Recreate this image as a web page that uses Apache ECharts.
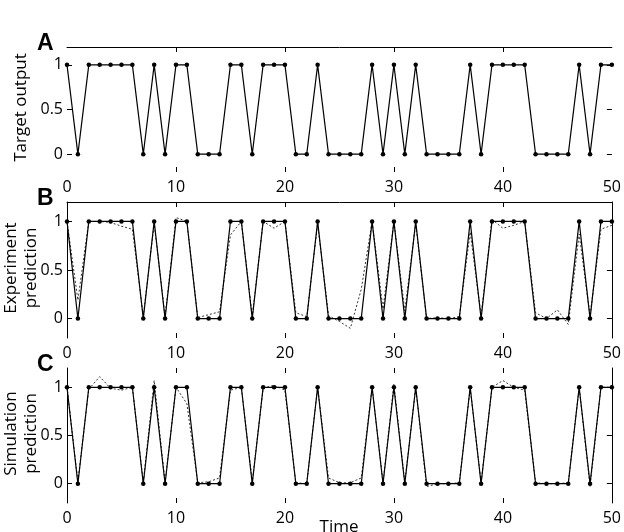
<!DOCTYPE html>
<html>
<head>
<meta charset="utf-8">
<script src="https://cdn.jsdelivr.net/npm/echarts@6/dist/echarts.min.js"></script>
<style>
  html, body { margin: 0; padding: 0; background: #fff; }
  #chart { width: 624px; height: 532px; }
</style>
</head>
<body>
<div id="chart"></div>
<script>
// time steps 0..50
const timeSteps = [];
for (let i = 0; i <= 50; i++) timeSteps.push(i);

const targetOutput = [1, 0, 1, 1, 1, 1, 1, 0, 1, 0,
  1, 1, 0, 0, 0, 1, 1, 0, 1, 1,
  1, 0, 0, 1, 0, 0, 0, 0, 1, 0,
  1, 0, 1, 0, 0, 0, 0, 1, 0, 1,
  1, 1, 1, 0, 0, 0, 0, 1, 0, 1,
  1];

const experimentPrediction = [1, 0.19, 1, 1, 0.99, 0.95, 0.92, 0.02, 0.98, 0.02,
  1.04, 1, 0.01, 0.04, 0.07, 0.86, 1, 0.02, 1, 0.93,
  1, 0.06, 0.02, 0.98, 0.03, -0.03, -0.1, 0.3, 1, 0.1,
  1, 0.08, 0.98, 0, 0.01, 0, 0.02, 0.89, 0.03, 1.02,
  0.93, 0.96, 1, 0.06, 0, 0.09, -0.06, 0.87, 0.03, 0.92,
  0.96];

const simulationPrediction = [1, 0.02, 0.98, 1.11, 0.99, 0.97, 1, 0.01, 1.07, 0.01,
  1, 0.83, 0.01, 0.02, 0.06, 0.97, 1, 0.02, 0.99, 1.02,
  0.97, 0.01, 0, 1, 0.06, 0.01, 0.01, 0.06, 1, 0.01,
  1.03, 0.01, 1, -0.03, 0, 0, 0.01, 0.99, 0.01, 1,
  1.07, 1, 0.97, 0.01, 0, 0, 0.01, 1, -0.03, 1,
  1];

const yTickValues = [0, 0.5, 1];
const xTickValues = [10, 20, 30, 40];
const panelLetters = ['A', 'B', 'C'];
const yNames = ['Target output', 'Experiment\nprediction', 'Simulation\nprediction'];

const FONT = '"Open Sans", sans-serif';

const panels = [
  { top: 47, height: 125, topLine: true, sideLines: false },
  { top: 202, height: 136, topLine: true, sideLines: true },
  { top: 368, height: 135, topLine: false, sideLines: true }
];

const pairs = t => timeSteps.map((x, i) => [x, t[i]]);

var myChart = echarts.init(document.getElementById('chart'));

const grids = [];
const xAxes = [];
const yAxes = [];
const series = [];

panels.forEach((p, k) => {
  grids.push({ left: 67, right: 11, top: p.top, height: p.height });
  const tick = { show: true, inside: true, length: 5, lineStyle: { color: '#000', width: 1 } };
  const line = show => ({ show: show, onZero: false, lineStyle: { color: '#000', width: 1 } });
  // bottom x
  xAxes.push({
    gridIndex: k, type: 'value', min: 0, max: 50, interval: 10, position: 'bottom',
    axisLine: line(false), axisTick: Object.assign({ customValues: xTickValues }, tick),
    splitLine: { show: false },
    axisLabel: { color: '#000', fontFamily: FONT, fontSize: 16, margin: 7 }
  });
  // top x
  xAxes.push({
    gridIndex: k, type: 'value', min: 0, max: 50, interval: 10, position: 'top',
    axisLine: line(p.topLine), axisTick: Object.assign({ customValues: xTickValues }, tick),
    axisLabel: { show: false }, splitLine: { show: false }
  });
  yAxes.push({
    gridIndex: k, type: 'value', min: -0.2, max: 1.2, position: 'left',
    axisLine: line(p.sideLines),
    axisTick: Object.assign({ customValues: yTickValues }, tick),
    axisLabel: { customValues: yTickValues, color: '#000', fontFamily: FONT, fontSize: 16, margin: 4 },
    splitLine: { show: false }
  });
  yAxes.push({
    gridIndex: k, type: 'value', min: -0.2, max: 1.2, position: 'right',
    axisLine: line(p.sideLines),
    axisTick: Object.assign({ customValues: yTickValues }, tick),
    axisLabel: { show: false }, splitLine: { show: false }
  });

  const pred = k === 1 ? experimentPrediction : (k === 2 ? simulationPrediction : null);
  if (pred) {
    series.push({
      type: 'line', xAxisIndex: 2 * k, yAxisIndex: 2 * k, data: pairs(pred),
      showSymbol: false, silent: true, z: 1,
      lineStyle: { color: '#000', width: 0.8, type: [2, 2] }
    });
  }
  series.push({
    type: 'line', xAxisIndex: 2 * k, yAxisIndex: 2 * k, data: pairs(targetOutput),
    symbol: 'circle', symbolSize: 4.5, z: 2, silent: true,
    itemStyle: { color: '#000' },
    lineStyle: { color: '#000', width: 1.2 }
  });
});

const graphics = [];
panels.forEach((p, k) => {
  graphics.push({
    type: 'text', left: 37, top: p.top - 15,
    style: { text: panelLetters[k], font: 'bold 23px "Liberation Sans", Arial, sans-serif', fill: '#000' }
  });
  graphics.push({
    type: 'text', x: 21, y: p.top + p.height / 2 - 2, rotation: Math.PI / 2,
    style: {
      text: yNames[k], font: '17px ' + FONT, fill: '#000',
      align: 'center', verticalAlign: 'middle', lineHeight: 20
    }
  });
});
graphics.push({
  type: 'text', x: 339, y: 527,
  style: { text: 'Time', font: '17px ' + FONT, fill: '#000', align: 'center', verticalAlign: 'middle' }
});

option = {
  animation: false,
  backgroundColor: '#fff',
  grid: grids,
  xAxis: xAxes,
  yAxis: yAxes,
  series: series,
  graphic: graphics
};
myChart.setOption(option);
</script>
</body>
</html>
